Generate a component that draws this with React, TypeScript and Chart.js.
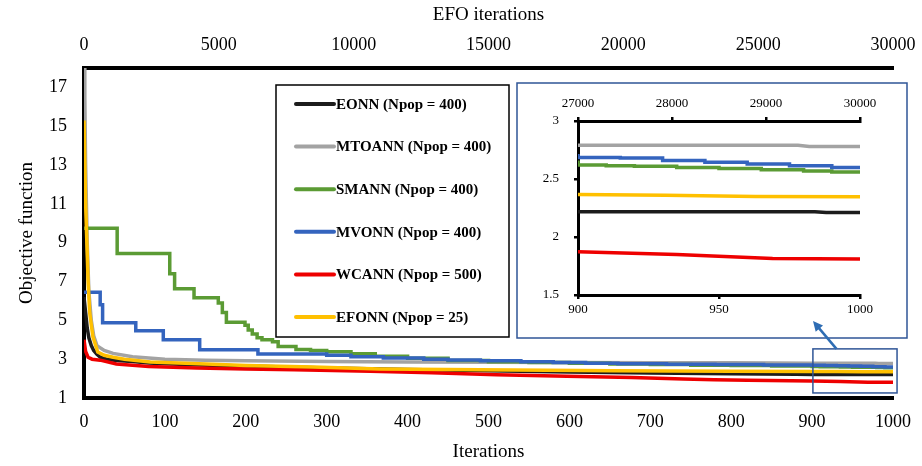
import React, { useEffect, useRef } from 'react';
import { Chart, registerables } from 'chart.js';

Chart.register(...registerables);

const FONT_FAMILY = "'Liberation Serif', 'Times New Roman', serif";

// ---------- data ----------
const seriesLabels = [
  'EONN (Npop = 400)',
  'MTOANN (Npop = 400)',
  'SMANN (Npop = 400)',
  'MVONN (Npop = 400)',
  'WCANN (Npop = 500)',
  'EFONN (Npop = 25)',
];
const seriesColors = ['#1c1c1c', '#a3a3a3', '#5b9b34', '#3464be', '#ee0000', '#ffc000'];
const seriesStepped = [false, false, true, true, false, false];

const eonnIter = [0, 2, 4, 6, 9, 12, 16, 20, 30, 40, 60, 80, 100, 143, 200, 250, 300, 400, 500, 600, 700, 800, 880, 900, 984, 988, 1000];
const eonnVal = [6.2, 5.4, 4.6, 4.1, 3.7, 3.45, 3.25, 3.1, 2.98, 2.93, 2.88, 2.8, 2.76, 2.7, 2.65, 2.6, 2.55, 2.47, 2.4, 2.34, 2.29, 2.25, 2.225, 2.217, 2.217, 2.211, 2.211];

const mtoannIter = [0, 1, 2, 4, 6, 9, 12, 16, 25, 36, 60, 100, 150, 200, 300, 400, 500, 600, 700, 800, 900, 978, 982, 1000];
const mtoannVal = [18, 16.5, 13, 9, 6.5, 5.0, 4.2, 3.7, 3.45, 3.3, 3.12, 3.0, 2.95, 2.92, 2.88, 2.86, 2.84, 2.83, 2.82, 2.81, 2.79, 2.79, 2.78, 2.78];

const smannIter = [0, 41, 106, 112, 136, 166, 171, 176, 199, 203, 208, 214, 220, 233, 240, 262, 280, 300, 330, 360, 400, 450, 500, 550, 600, 650, 700, 750, 800, 850, 900, 910, 920, 935, 950, 965, 980, 990, 1000];
const smannVal = [9.75, 8.45, 7.4, 6.63, 6.16, 5.9, 5.4, 4.9, 4.75, 4.5, 4.3, 4.1, 4.0, 3.9, 3.65, 3.5, 3.45, 3.38, 3.28, 3.15, 3.05, 2.93, 2.87, 2.83, 2.79, 2.75, 2.72, 2.69, 2.67, 2.645, 2.62, 2.615, 2.61, 2.6, 2.59, 2.58, 2.57, 2.56, 2.555];

const mvonnIter = [0, 20, 23, 64, 98, 143, 215, 300, 330, 370, 420, 450, 490, 540, 580, 620, 660, 720, 780, 840, 900, 915, 930, 945, 960, 975, 990, 1000];
const mvonnVal = [6.45, 5.8, 4.88, 4.46, 4.0, 3.48, 3.27, 3.2, 3.12, 3.06, 3.0, 2.96, 2.92, 2.87, 2.83, 2.79, 2.76, 2.74, 2.72, 2.7, 2.685, 2.68, 2.66, 2.645, 2.63, 2.615, 2.6, 2.59];

const wcannIter = [0, 2, 5, 10, 20, 40, 80, 140, 200, 260, 354, 430, 510, 597, 677, 741, 779, 820, 900, 935, 969, 1000];
const wcannVal = [4.0, 3.4, 3.1, 3.0, 2.95, 2.75, 2.62, 2.55, 2.5, 2.45, 2.38, 2.3, 2.2, 2.12, 2.05, 1.98, 1.94, 1.91, 1.873, 1.85, 1.815, 1.81];

const efonnIter = [0, 2, 5, 7, 11, 17, 25, 36, 50, 82, 143, 200, 283, 366, 490, 654, 800, 900, 931, 963, 1000];
const efonnVal = [15.3, 11, 7.1, 5.4, 4.15, 3.37, 3.2, 3.1, 3.0, 2.86, 2.76, 2.68, 2.6, 2.5, 2.45, 2.4, 2.38, 2.366, 2.36, 2.35, 2.346];

const seriesIter = [eonnIter, mtoannIter, smannIter, mvonnIter, wcannIter, efonnIter];
const seriesVal = [eonnVal, mtoannVal, smannVal, mvonnVal, wcannVal, efonnVal];

// axis ticks
const mainYTicks = [1, 3, 5, 7, 9, 11, 13, 15, 17];
const mainXRange = [0, 1000];
const mainX2Range = [0, 30000];
const mainYRange = [1, 18];
const insetXRange = [900, 1000];
const insetX2Range = [27000, 30000];
const insetYRange = [1.5, 3];
// zoom region shown in the inset (iteration, objective)
const zoomBoxX = [901, 1005];
const zoomBoxY = [1.26, 3.53];

const plainLabel = (v: any) => String(v);

function buildDatasets(width: number) {
  return seriesLabels.map((label, i) => ({
    label,
    data: seriesIter[i].map((x, k) => ({ x, y: seriesVal[i][k] })),
    borderColor: seriesColors[i],
    backgroundColor: seriesColors[i],
    borderWidth: width,
    pointRadius: 0,
    stepped: seriesStepped[i] ? 'before' : false,
    tension: 0,
    order: seriesLabels.length - 1 - i,
  }));
}

const decorPlugin = {
  id: 'decor',
  afterDraw(chart: any) {
    const ctx = chart.ctx;
    ctx.save();
    // zoom rectangle
    const xs = chart.scales.x;
    const ys = chart.scales.y;
    const rx0 = xs.getPixelForValue(zoomBoxX[0]);
    const rx1 = xs.getPixelForValue(zoomBoxX[1]);
    const ry0 = ys.getPixelForValue(zoomBoxY[1]);
    const ry1 = ys.getPixelForValue(zoomBoxY[0]);
    ctx.strokeStyle = '#2f5597';
    ctx.lineWidth = 1.5;
    ctx.strokeRect(rx0, ry0, rx1 - rx0, ry1 - ry0);

    // inset frame
    ctx.strokeRect(517, 83, 390, 255);

    // arrow
    const ax0 = rx0 + (rx1 - rx0) * 0.28;
    const ay0 = ry0;
    const ax1 = 813;
    const ay1 = 321;
    ctx.strokeStyle = '#2e6db4';
    ctx.fillStyle = '#2e6db4';
    ctx.lineWidth = 2.5;
    ctx.beginPath();
    ctx.moveTo(ax0, ay0);
    const ang = Math.atan2(ay1 - ay0, ax1 - ax0);
    ctx.lineTo(ax1 - Math.cos(ang) * 6, ay1 - Math.sin(ang) * 6);
    ctx.stroke();
    ctx.beginPath();
    ctx.moveTo(ax1, ay1);
    ctx.lineTo(ax1 - Math.cos(ang - 0.45) * 11, ay1 - Math.sin(ang - 0.45) * 11);
    ctx.lineTo(ax1 - Math.cos(ang + 0.45) * 11, ay1 - Math.sin(ang + 0.45) * 11);
    ctx.closePath();
    ctx.fill();

    // legend box
    ctx.strokeStyle = '#000';
    ctx.lineWidth = 1.5;
    ctx.fillStyle = '#fff';
    ctx.fillRect(276, 85, 233, 252);
    ctx.strokeRect(276, 85, 233, 252);
    ctx.font = `bold 15px ${FONT_FAMILY}`;
    ctx.textBaseline = 'middle';
    ctx.textAlign = 'left';
    chart.data.datasets.forEach((ds: any, i: number) => {
      const y = 104 + i * 42.6;
      ctx.strokeStyle = ds.borderColor;
      ctx.lineWidth = 4;
      ctx.lineCap = 'round';
      ctx.beginPath();
      ctx.moveTo(296, y);
      ctx.lineTo(334, y);
      ctx.stroke();
      ctx.fillStyle = '#000';
      ctx.fillText(ds.label, 336, y + 1);
    });
    ctx.restore();
  },
};

export default function App() {
  const mainRef = useRef<HTMLCanvasElement>(null);
  const insetRef = useRef<HTMLCanvasElement>(null);

  useEffect(() => {
    document.body.style.margin = '0';
    Chart.defaults.font.family = FONT_FAMILY;
    Chart.defaults.color = '#000';
    const tickFont = { family: FONT_FAMILY, size: 18 };
    const titleFont = { family: FONT_FAMILY, size: 19 };
    const noGrid = { display: false, drawTicks: false };
    const border = { display: true, color: '#000', width: 4 };
    const fixH = (h: number) => (s: any) => { s.height = h; s.paddingLeft = 0; s.paddingRight = 0; };
    const fixW = (w: number) => (s: any) => { s.width = w; s.paddingTop = 0; s.paddingBottom = 0; };

    const main = new Chart(mainRef.current as HTMLCanvasElement, {
      type: 'line',
      data: { datasets: buildDatasets(3.5) as any },
      plugins: [decorPlugin],
      options: {
        responsive: false,
        maintainAspectRatio: false,
        animation: false,
        layout: { padding: { left: 0, right: 29, top: 0, bottom: 0 } },
        plugins: { legend: { display: false }, tooltip: { enabled: false } },
        scales: {
          x: {
            type: 'linear', position: 'bottom', min: mainXRange[0], max: mainXRange[1],
            ticks: { stepSize: 100, padding: 13, font: tickFont, color: '#000', maxRotation: 0, autoSkip: false, callback: plainLabel },
            grid: noGrid, border,
            title: { display: true, text: 'Iterations', font: titleFont, color: '#000', padding: { top: 0, bottom: 3 } },
            afterFit: fixH(68),
          },
          x2: {
            type: 'linear', position: 'top', min: mainX2Range[0], max: mainX2Range[1],
            ticks: { stepSize: 5000, padding: 12, font: tickFont, color: '#000', maxRotation: 0, autoSkip: false, callback: plainLabel },
            grid: noGrid, border,
            title: { display: true, text: 'EFO iterations', font: titleFont, color: '#000', padding: { top: 4, bottom: 0 } },
            afterFit: fixH(68),
          },
          y: {
            type: 'linear', position: 'left', min: mainYRange[0], max: mainYRange[1],
            afterBuildTicks: (s: any) => { s.ticks = mainYTicks.map((v) => ({ value: v })); },
            ticks: { padding: 17, font: tickFont, color: '#000', callback: plainLabel },
            grid: noGrid, border,
            title: { display: true, text: 'Objective function', font: titleFont, color: '#000', padding: { top: 16, bottom: 0 } },
            afterFit: fixW(84),
          },
        },
      } as any,
    });

    const insetTickFont = { family: FONT_FAMILY, size: 13 };
    const insetGrid = { display: true, drawOnChartArea: false, drawTicks: true, tickLength: 4, color: '#000', lineWidth: 2.5 };
    const insetBorder = { display: true, color: '#000', width: 3 };
    const inset = new Chart(insetRef.current as HTMLCanvasElement, {
      type: 'line',
      data: { datasets: buildDatasets(3.5) as any },
      options: {
        responsive: false,
        maintainAspectRatio: false,
        animation: false,
        layout: { padding: { left: 0, right: 47, top: 0, bottom: 0 } },
        plugins: { legend: { display: false }, tooltip: { enabled: false } },
        scales: {
          x: {
            type: 'linear', position: 'bottom', min: insetXRange[0], max: insetXRange[1],
            ticks: { stepSize: 50, padding: 3, font: insetTickFont, color: '#000', maxRotation: 0, autoSkip: false, callback: plainLabel },
            grid: insetGrid, border: insetBorder,
            afterFit: fixH(43),
          },
          x2: {
            type: 'linear', position: 'top', min: insetX2Range[0], max: insetX2Range[1],
            ticks: { stepSize: 1000, padding: 6, font: insetTickFont, color: '#000', maxRotation: 0, autoSkip: false, callback: plainLabel },
            grid: insetGrid, border: insetBorder,
            afterFit: fixH(38),
          },
          y: {
            type: 'linear', position: 'left', min: insetYRange[0], max: insetYRange[1],
            ticks: { stepSize: 0.5, padding: 15, font: insetTickFont, color: '#000', callback: plainLabel },
            grid: insetGrid, border: insetBorder,
            afterFit: fixW(61),
          },
        },
      } as any,
    });

    return () => {
      main.destroy();
      inset.destroy();
    };
  }, []);

  return (
    <div style={{ position: 'relative', width: 922, height: 466, background: '#fff' }}>
      <canvas ref={mainRef} width={922} height={466} style={{ position: 'absolute', left: 0, top: 0, width: 922, height: 466 }} />
      <canvas ref={insetRef} width={390} height={255} style={{ position: 'absolute', left: 517, top: 83, width: 390, height: 255 }} />
    </div>
  );
}
